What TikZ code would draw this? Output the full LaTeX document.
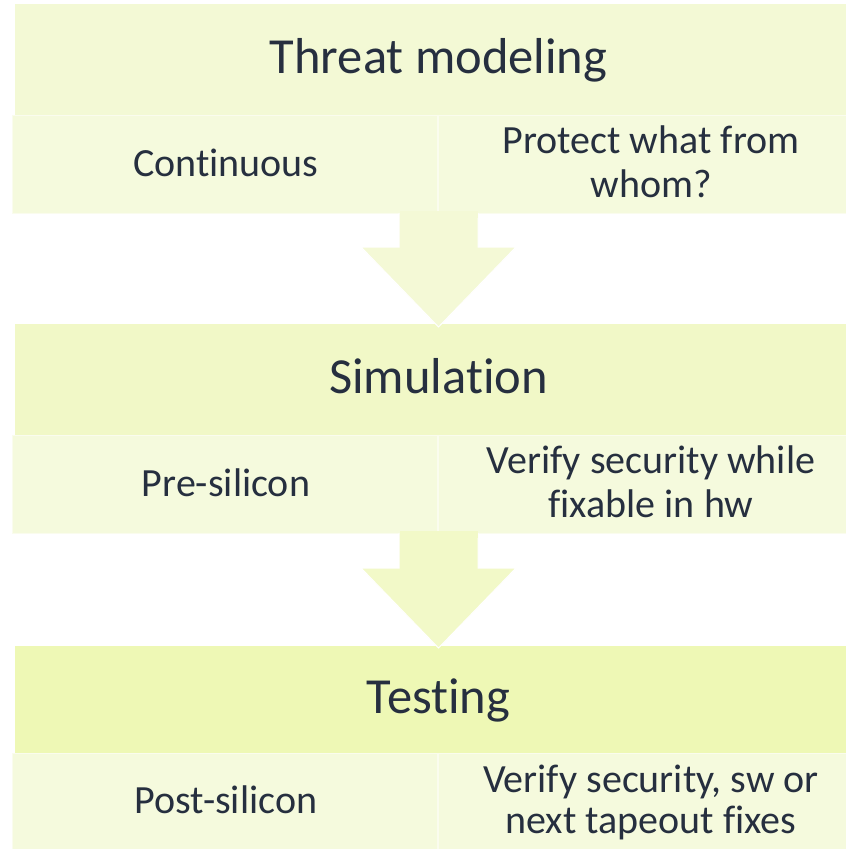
\documentclass[tikz,border=0pt]{standalone}
\usepackage{fontspec}
\setmainfont{Carlito}[Ligatures={NoCommon}]
\definecolor{hdrA}{HTML}{F3F9D5}
\definecolor{hdrB}{HTML}{F1F8C7}
\definecolor{hdrC}{HTML}{EEF8B5}
\definecolor{cellfill}{HTML}{F5FADD}
\definecolor{arrA}{HTML}{F4F9D6}
\definecolor{arrB}{HTML}{F2F9C8}
\definecolor{txt}{HTML}{262F3F}
\tikzset{
  box/.style={rectangle, inner sep=0pt, outer sep=0pt, anchor=north west},
  hdrbox/.style={box, minimum width=846pt},
  cellbox/.style={box, fill=cellfill, draw=white!50!cellfill, line width=1pt, minimum height=98pt},
  hdrtext/.style={text=txt, font=\fontsize{50.5}{60}\selectfont, anchor=base, inner sep=0pt},
  celltext/.style={text=txt, font=\fontsize{40}{44}\selectfont, anchor=base, inner sep=0pt, align=center},
  blockarrow/.style={draw=white, line width=1pt, line join=miter},
}
\begin{document}
\begin{tikzpicture}[x=1pt,y=-1pt]
\useasboundingbox (0,0) rectangle (846,849);
\begin{scope}
\clip (0,0) rectangle (846,849);
% row 1
\node[hdrbox, fill=hdrA, minimum height=111pt] (h1) at (15,4) {};
\node[cellbox, minimum width=425.5pt] (c1l) at (12,115) {};
\node[cellbox, minimum width=426pt] (c1r) at (438,115) {};
% row 2
\node[hdrbox, fill=hdrB, minimum height=111pt] (h2) at (15,324) {};
\node[cellbox, minimum width=425.5pt] (c2l) at (12,435) {};
\node[cellbox, minimum width=426pt] (c2r) at (438,435) {};
% row 3
\node[hdrbox, fill=hdrC, minimum height=107pt] (h3) at (15,646) {};
\node[cellbox, minimum width=425.5pt] (c3l) at (12,753) {};
\node[cellbox, minimum width=426pt] (c3r) at (438,753) {};
% arrows
\coordinate (a1) at (438.5,213);
\coordinate (a2) at (438.5,533);
\fill[blockarrow, fill=arrA] (a1) ++(-39.5,0) -- ++(0,34) -- ++(-38,0) -- (438.5,327) -- (516,247) -- ++(-38,0) -- ++(0,-34);
\fill[blockarrow, fill=arrB] (a2) ++(-39.5,0) -- ++(0,35) -- ++(-38,0) -- (438.5,648) -- (516,568) -- ++(-38,0) -- ++(0,-35);
\fill[arrA] (399.5,211) rectangle (477.5,218);
\fill[arrB] (399.5,531) rectangle (477.5,538);
\end{scope}
% texts
\node[hdrtext] (t1) at (438.5,73) {Threat modeling};
\node[celltext] (l1) at (226,176) {Continuous};
\node[celltext] (r1) at (651,197) {Protect what from\\whom?};
\node[hdrtext] (t2) at (438.5,393) {Simulation};
\node[celltext] (l2) at (226,496) {Pre-silicon};
\node[celltext] (r2) at (651,517) {Verify security while\\fixable in hw};
\node[hdrtext] (t3) at (438.5,713) {Testing};
\node[celltext] (l3) at (226,813) {Post-silicon};
\node[celltext, font=\fontsize{40}{41}\selectfont] (r3) at (651,833) {Verify security, sw or\\next tapeout fixes};
\end{tikzpicture}
\end{document}
